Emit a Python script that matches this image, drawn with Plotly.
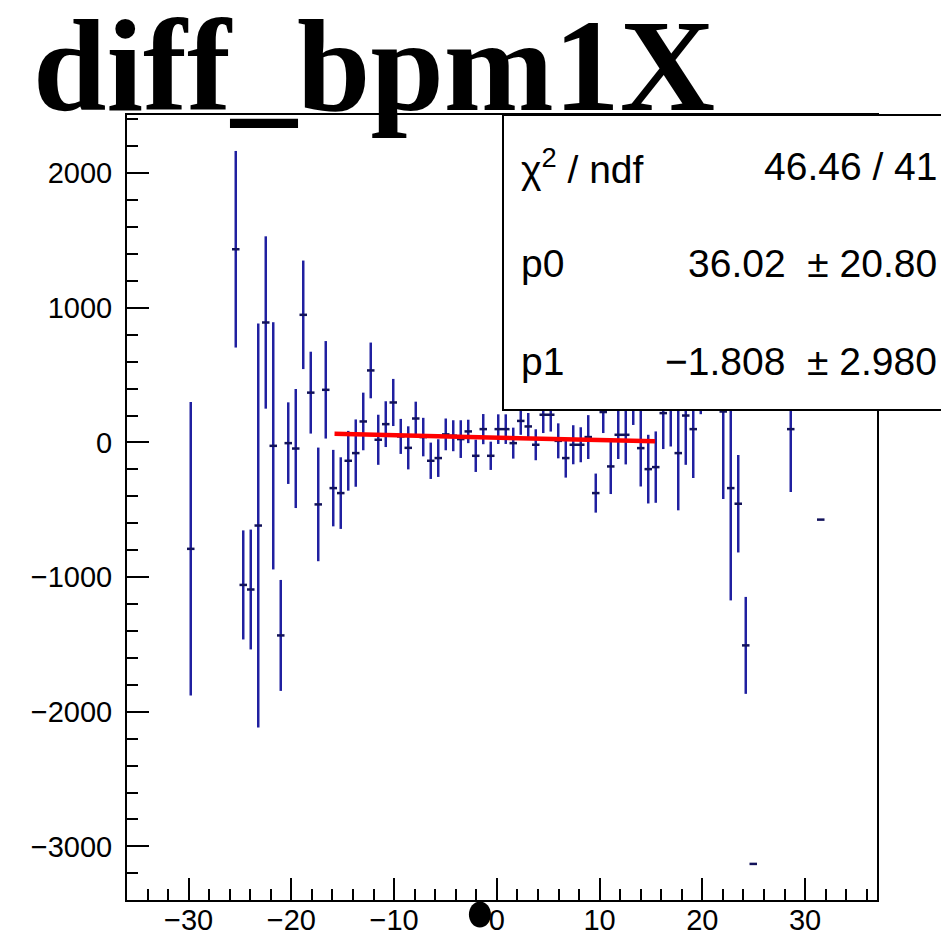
import plotly.graph_objects as go

# ---------------- data ----------------
bin_x = [-29.795, -25.415, -24.685, -23.955, -23.225, -22.495, -21.765, -21.035,
         -20.305, -19.575, -18.845, -18.115, -17.385, -16.655, -15.925, -15.195,
         -14.465, -13.735, -13.005, -12.275, -11.545, -10.815, -10.085, -9.355,
         -8.625, -7.895, -7.165, -6.435, -5.705, -4.975, -4.245, -3.515,
         -2.785, -2.055, -1.325, -0.595, 0.135, 0.865, 1.595, 2.325,
         3.055, 3.785, 4.515, 5.245, 5.975, 6.705, 7.435, 8.165,
         8.895, 9.625, 10.355, 11.085, 11.815, 12.545, 13.275, 14.005,
         14.735, 15.465, 16.195, 16.925, 17.655, 18.385, 19.115, 19.845,
         22.035, 22.765, 23.495, 24.225, 24.955, 28.605, 31.525]
bin_mean = [-790, 1435, -1058, -1092, -617, 891, -25, -1433,
            -5, -45, 948, 370, -460, 391, -339, -376,
            -136, -79, 156, 535, 20, 136, 297, 45,
            -40, 178, 40, -136, -116, 60, 50, 25,
            82, -99, 99, -99, 99, 99, -5, 160,
            119, -17, 206, 206, 12, -116, -17, -17,
            40, -376, 226, -178, 57, 57, 330, -42,
            -198, -183, 218, 250, -79, 200, 99, 500,
            230, -339, -455, -1507, -3130, 99, -573]
bin_err = [1090, 730, 405, 445, 1500, 640, 918, 412,
           303, 442, 403, 304, 422, 362, 284, 266,
           222, 250, 214, 207, 186, 170, 175, 130,
           160, 125, 143, 135, 140, 118, 115, 140,
           87, 120, 112, 105, 110, 110, 115, 103,
           100, 115, 136, 125, 130, 145, 145, 130,
           163, 145, 156, 205, 180, 220, 200, 285,
           255, 265, 267, 280, 425, 366, 363, 290,
           650, 834, 362, 360, 0, 467, 0]
bin_half_width = 0.365

fit_p0 = 36.02
fit_p1 = -1.808
fit_range = [-15.8, 15.4]

stat_labels = ["χ<sup>2</sup> / ndf", "p0", "p1"]
stat_values = ["46.46 / 41", "36.02 \u00a0± 20.80", "\u22121.808 \u00a0± 2.980"]

dot_x = [-1.65]
dot_y = [-3506]

x_range = [-36, 37]
y_range = [-3398, 2432]
x_ticks = [-30, -20, -10, 0, 10, 20, 30]
y_ticks = [-3000, -2000, -1000, 0, 1000, 2000]

# ---------------- figure ----------------
# the page body has an 8 px margin; the figure is sized to fill the rest
OFF = 8
W, H = 949 - OFF, 938 - OFF
ML, MR, MT, MB = 127 - OFF, 72, 115 - OFF, 38
PW, PH = W - ML - MR, H - MT - MB


def px2paper_x(px):
    return (px - OFF - ML) / PW


def px2paper_y(py):
    return (H - MB - (py - OFF)) / PH


def yval2paper(v):
    return (v - y_range[0]) / (y_range[1] - y_range[0])


fig = go.Figure()

fig.add_trace(go.Scatter(
    x=bin_x, y=bin_mean, mode="markers",
    marker=dict(size=1, color="rgba(0,0,0,0)"),
    error_y=dict(type="data", array=bin_err, visible=True,
                 color="#2020a0", thickness=2.5, width=0),
    error_x=dict(type="constant", value=bin_half_width, visible=True,
                 color="#12125a", thickness=2.5, width=0),
    hoverinfo="skip", showlegend=False,
))

fig.add_trace(go.Scatter(
    x=fit_range, y=[fit_p0 + fit_p1 * v for v in fit_range],
    mode="lines", line=dict(color="#ff0000", width=4.5),
    showlegend=False, hoverinfo="skip",
))

# black dot just below the x axis (outside the axis range, so drawn as a shape)
for dx, dy in zip(dot_x, dot_y):
    fig.add_shape(type="circle", xref="x", yref="paper",
                  xsizemode="pixel", ysizemode="pixel",
                  xanchor=dx, yanchor=yval2paper(dy),
                  x0=-11, x1=11, y0=-13, y1=13,
                  fillcolor="black", line=dict(color="black", width=0), layer="above")

axis_font = dict(family="Liberation Sans, Arial, sans-serif", size=29, color="black")

fig.update_xaxes(
    range=x_range, tickmode="array", tickvals=x_ticks,
    ticks="inside", ticklen=22, tickwidth=2, tickcolor="black",
    minor=dict(dtick=2, tick0=0, ticks="inside", ticklen=11, tickwidth=2, tickcolor="black"),
    showline=True, linecolor="black", linewidth=2, mirror=True,
    showgrid=False, zeroline=False, tickfont=axis_font, ticklabelstandoff=-7,
    automargin=False,
)
fig.update_yaxes(
    range=y_range, tickmode="array", tickvals=y_ticks,
    ticks="inside", ticklen=22, tickwidth=2, tickcolor="black",
    minor=dict(dtick=200, tick0=0, ticks="inside", ticklen=11, tickwidth=2, tickcolor="black"),
    showline=True, linecolor="black", linewidth=2, mirror=True,
    showgrid=False, zeroline=False, tickfont=axis_font, ticklabelstandoff=7,
    automargin=False,
)

# stats box
fig.add_shape(type="rect", xref="paper", yref="paper",
              x0=px2paper_x(503), x1=px2paper_x(975),
              y0=px2paper_y(410), y1=px2paper_y(115),
              line=dict(color="black", width=2), fillcolor="white", layer="above")

stat_font = dict(family="Liberation Sans, Arial, sans-serif", size=39, color="black")
stat_rows_py = [166, 264, 361]
for lab, val, py in zip(stat_labels, stat_values, stat_rows_py):
    fig.add_annotation(xref="paper", yref="paper", x=px2paper_x(519), y=px2paper_y(py),
                       text=lab, showarrow=False, xanchor="left", yanchor="middle",
                       font=stat_font)
    fig.add_annotation(xref="paper", yref="paper", x=px2paper_x(939), y=px2paper_y(py),
                       text=val, showarrow=False, xanchor="right", yanchor="middle",
                       font=stat_font)

# title
fig.add_annotation(xref="paper", yref="paper", x=px2paper_x(31), y=px2paper_y(65),
                   text="diff_bpm1X", showarrow=False, xanchor="left", yanchor="middle",
                   font=dict(family="Liberation Serif, Times New Roman, serif", size=132,
                             color="black", weight=700))

fig.update_layout(
    width=W, height=H, autosize=False,
    margin=dict(l=ML, r=MR, t=MT, b=MB, pad=0),
    paper_bgcolor="white", plot_bgcolor="white",
    showlegend=False,
)

fig.write_html("out.html")
